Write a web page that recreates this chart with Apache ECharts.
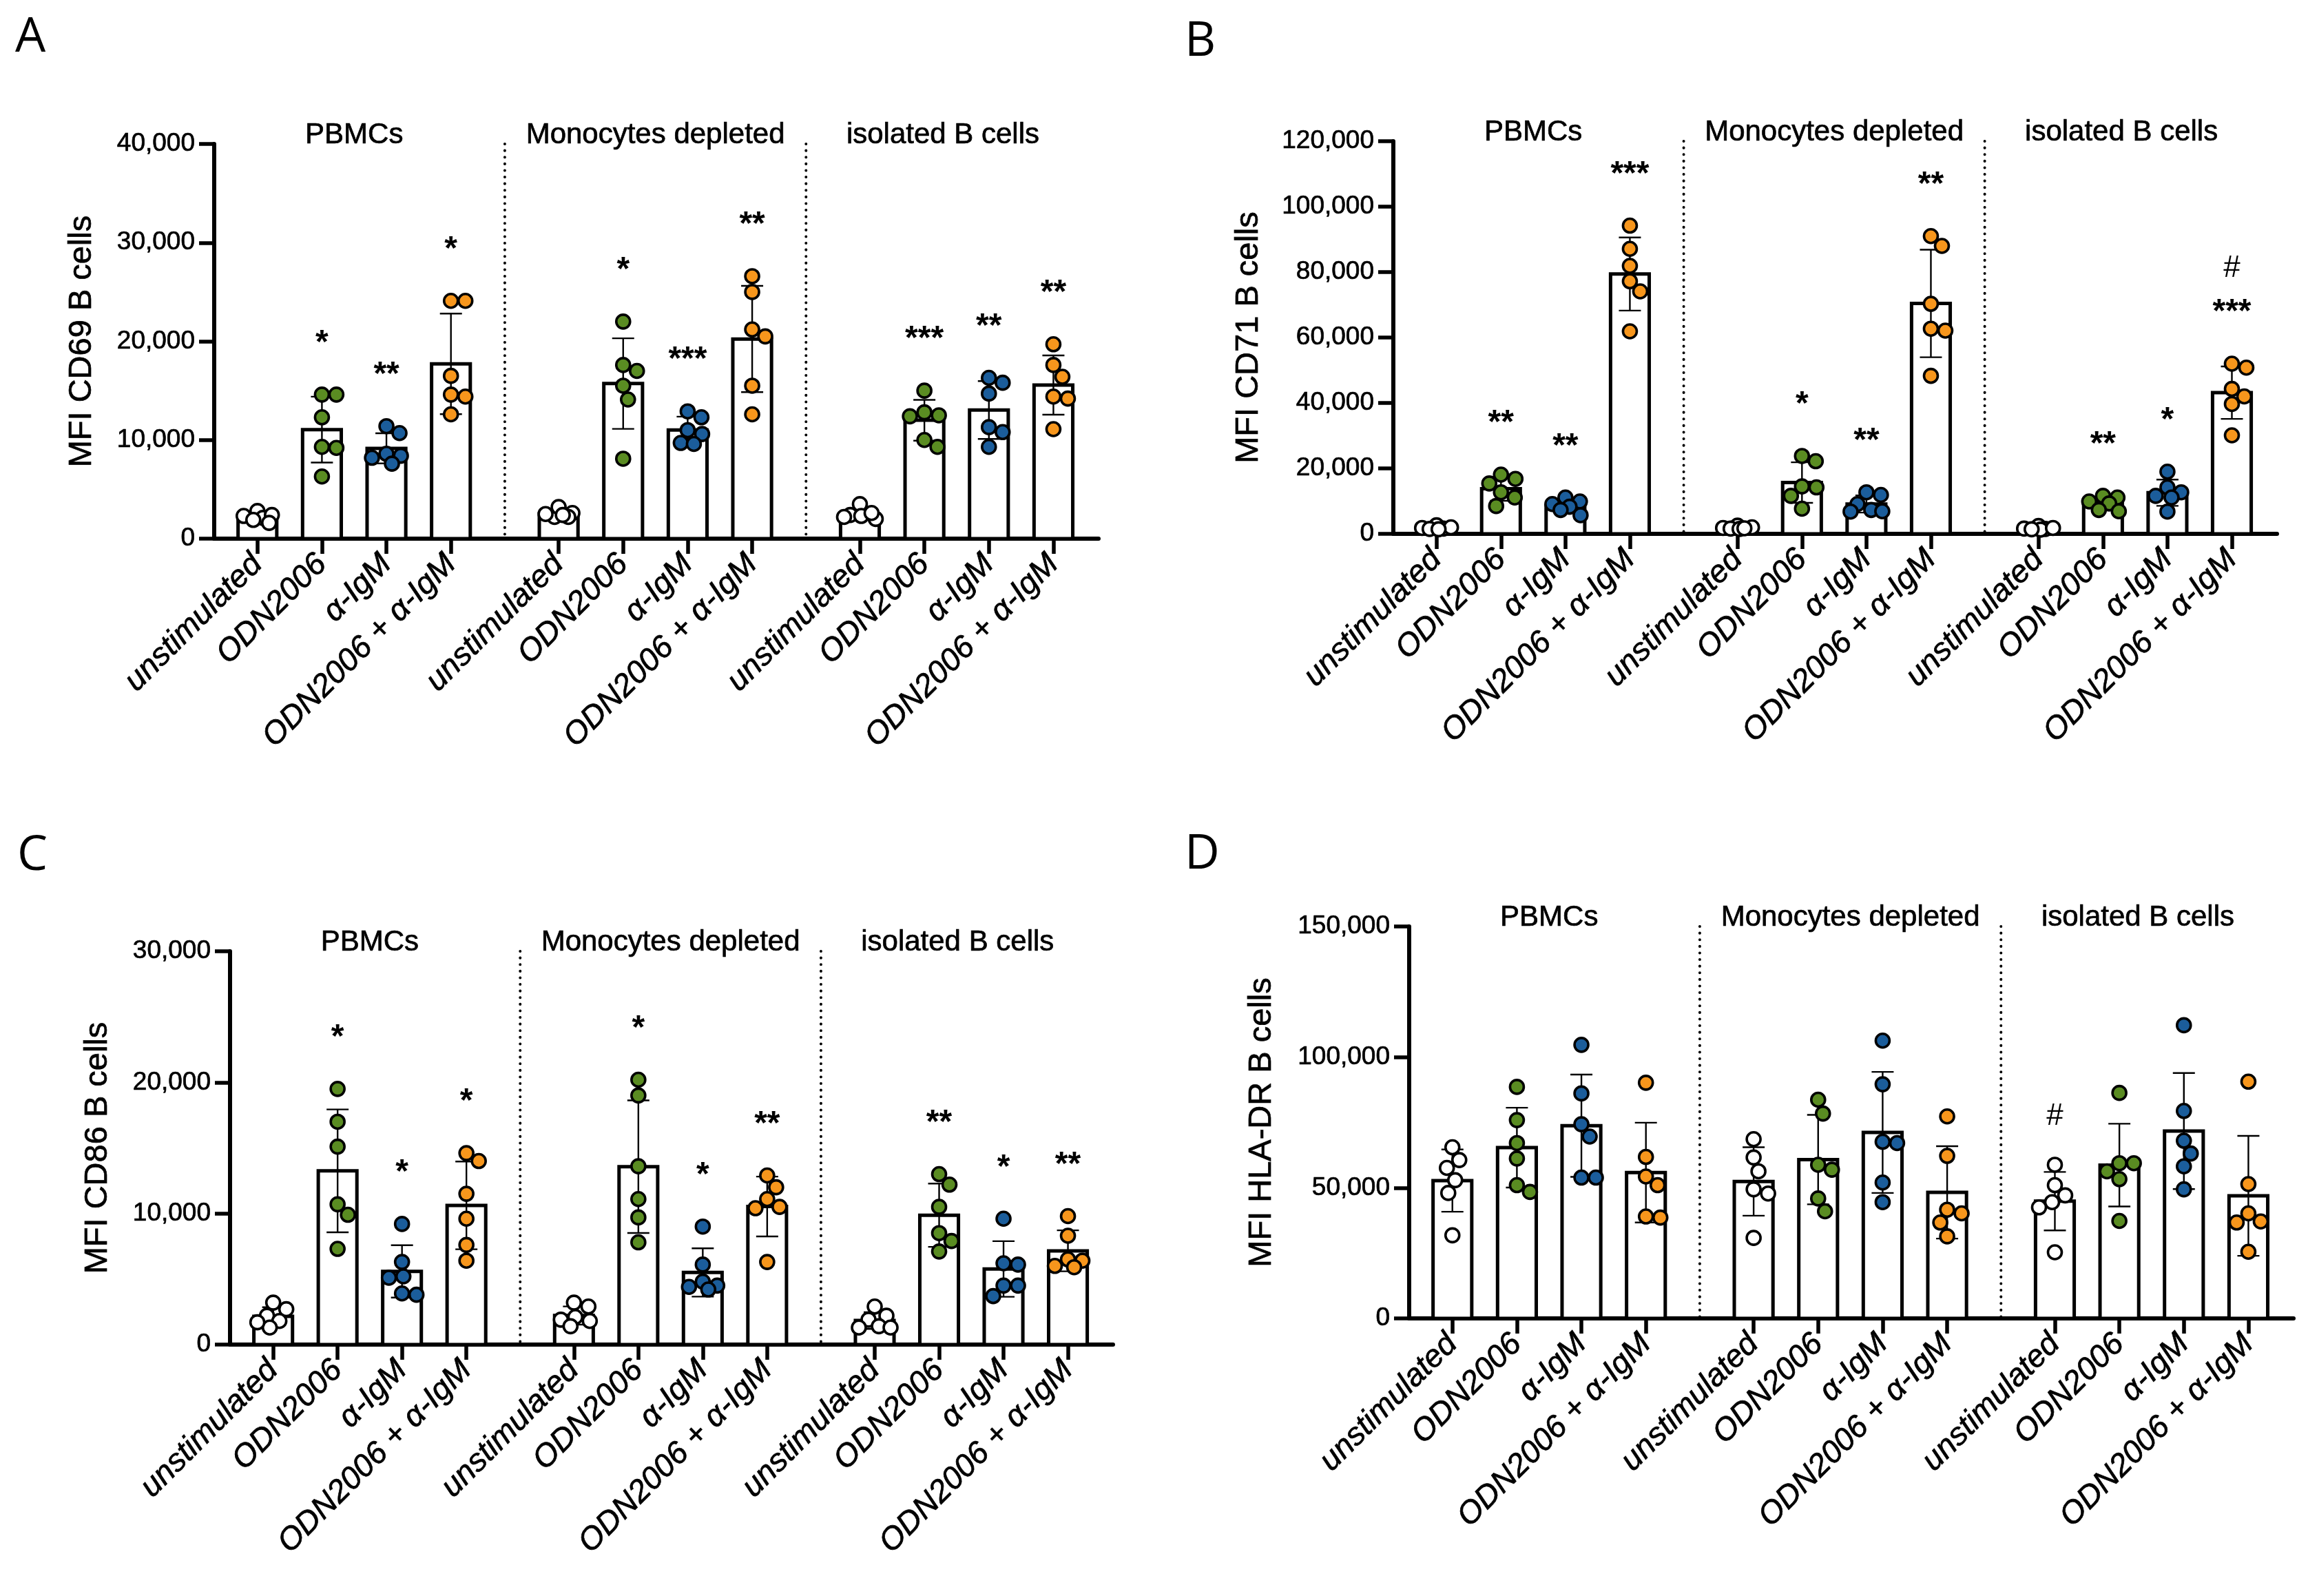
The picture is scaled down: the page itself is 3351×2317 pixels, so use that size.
<!DOCTYPE html>
<html><head><meta charset="utf-8">
<script src="https://cdn.jsdelivr.net/npm/echarts@6/dist/echarts.min.js"></script>
<style>html,body{margin:0;padding:0;background:#fff}#c{width:3351px;height:2317px}</style>
</head><body><div id="c"></div>
<script>
// ---------- categories ----------
const conditions = ['unstimulated', 'ODN2006', 'α-IgM', 'ODN2006 + α-IgM'];
const groupNames = ['PBMCs', 'Monocytes depleted', 'isolated B cells'];
const conditionColors = ['#ffffff', '#5a8c22', '#1b5d9b', '#f7961c'];

// ---------- Panel A: MFI CD69 ----------
const cd69_PBMC = [[2800, 2300, 2100, 1900, 2400, 1600], [14600, 14600, 12300, 9300, 9200, 6300], [11400, 10700, 8600, 8400, 8200, 7600], [24100, 24100, 16500, 14600, 14400, 12600]];
const cd69_Mono = [[2200, 3200, 2600, 2200, 2500, 2400], [22000, 17600, 17000, 15500, 14100, 8100], [12900, 12300, 10600, 11000, 9700, 9600], [26600, 25000, 21200, 20500, 15500, 12600]];
const cd69_Iso = [[2000, 2400, 3500, 2300, 2600, 2200], [15000, 12800, 12500, 12400, 10000, 9300], [15800, 16300, 14700, 11300, 10800, 9300], [19700, 17600, 16400, 14400, 14200, 11100]];
const cd69_sig = ['', '*', '**', '*', '', '*', '***', '**', '', '***', '**', '**'];
const cd69_ticks = [0, 10000, 20000, 30000, 40000];

// ---------- Panel B: MFI CD71 ----------
const cd71_PBMC = [[1800, 2600, 1500, 1600, 2000, 1400], [18100, 16800, 15400, 12700, 11100, 8500], [11100, 9900, 9100, 8300, 7300, 5700], [94200, 87100, 81900, 77200, 74100, 61900]];
const cd71_Mono = [[1800, 2500, 1600, 1500, 2000, 1700], [23800, 22200, 14500, 14200, 11600, 7700], [12700, 11900, 9100, 7300, 6800, 6900], [91000, 88000, 70300, 62700, 62100, 48300]];
const cd71_Iso = [[1600, 2400, 1500, 1300, 1800, 1400], [11600, 11100, 9900, 9300, 7300, 6900], [19000, 14200, 12700, 11600, 11100, 6800], [52000, 50800, 44300, 42000, 39700, 30100]];
const cd71_sig = ['', '**', '**', '***', '', '*', '**', '**', '', '**', '*', '#\n***'];
const cd71_ticks = [0, 20000, 40000, 60000, 80000, 100000, 120000];

// ---------- Panel C: MFI CD86 ----------
const cd86_PBMC = [[3200, 2700, 2200, 1800, 1300, 1700], [19500, 17000, 15100, 10700, 9900, 7300], [9200, 6300, 5200, 5100, 3900, 3800], [14600, 14000, 11500, 9600, 7600, 6400]];
const cd86_Mono = [[3200, 2900, 2100, 1900, 1400, 1800], [20200, 19000, 13600, 11100, 9700, 7800], [9000, 6100, 4800, 4500, 4400, 4200], [12900, 12000, 11100, 10500, 10400, 6300]];
const cd86_Iso = [[2900, 2200, 1900, 1400, 1300, 1300], [13000, 12200, 10500, 8500, 7900, 7100], [9600, 6200, 6100, 4500, 4500, 3700], [9800, 8300, 6500, 6400, 6000, 5900]];
const cd86_sig = ['', '*', '*', '*', '', '*', '*', '**', '', '**', '*', '**'];
const cd86_ticks = [0, 10000, 20000, 30000];

// ---------- Panel D: MFI HLA-DR ----------
const hladr_PBMC = [[65500, 60600, 57600, 52900, 48000, 31800], [88600, 75900, 67100, 61200, 51000, 48400], [104700, 86100, 74300, 69600, 53900, 53900], [90200, 61800, 54300, 51000, 38600, 39000]];
const hladr_Mono = [[68600, 61600, 56300, 49400, 47800, 30800], [83700, 78400, 56900, 58800, 45900, 41000], [106300, 89600, 67100, 67600, 52000, 44500], [77300, 62200, 41600, 40200, 36700, 31400]];
const hladr_Iso = [[58800, 51000, 47100, 44500, 42500, 25300], [86300, 59400, 59400, 56300, 53300, 37300], [112200, 79400, 68000, 63100, 58200, 49400], [90600, 51400, 40200, 37100, 36700, 25500]];
const hladr_sig = ['', '', '', '', '', '', '', '', '#', '', '', ''];
const hladr_ticks = [0, 50000, 100000, 150000];

// ---------- layout / style (not data) ----------
const FONT = '"Liberation Sans", Arial, Helvetica, sans-serif';
const GROUP_STEP = 4.67;   // 4 categories + gap between groups
const X0 = 1;              // position of first category
const X_MIN = X0 - 0.67, X_MAX = X0 + 2 * GROUP_STEP + 3 + 0.70;
const BAR_W = 0.6;
const DOT_R = 10;
const TB = { textBorderColor: '#000', textBorderWidth: 0.7 };

const panels = [
  { letter: 'A', title: 'MFI CD69 B cells', data: [cd69_PBMC, cd69_Mono, cd69_Iso], sig: cd69_sig, ticks: cd69_ticks,
    grid: { left: 311, top: 209, width: 1284, height: 573 }, nameGap: 168, letterPos: [22, 20] },
  { letter: 'B', title: 'MFI CD71 B cells', data: [cd71_PBMC, cd71_Mono, cd71_Iso], sig: cd71_sig, ticks: cd71_ticks,
    grid: { left: 2023, top: 205, width: 1283, height: 570 }, nameGap: 186, letterPos: [1720, 26] },
  { letter: 'C', title: 'MFI CD86 B cells', data: [cd86_PBMC, cd86_Mono, cd86_Iso], sig: cd86_sig, ticks: cd86_ticks,
    grid: { left: 334, top: 1381, width: 1282, height: 571 }, nameGap: 168, letterPos: [25, 1208] },
  { letter: 'D', title: 'MFI HLA-DR B cells', data: [hladr_PBMC, hladr_Mono, hladr_Iso], sig: hladr_sig, ticks: hladr_ticks,
    grid: { left: 2046, top: 1345, width: 1284, height: 569 }, nameGap: 190, letterPos: [1720, 1206] }
];

const positions = [];
const labelNames = [];
for (let g = 0; g < 3; g++) for (let i = 0; i < 4; i++) { positions.push(+(X0 + g * GROUP_STEP + i).toFixed(4)); labelNames.push(conditions[i]); }

function nameAt(v) {
  const k = positions.findIndex(p => Math.abs(p - v) < 1e-3);
  return k < 0 ? '' : labelNames[k];
}
function mean(a) { return a.reduce((s, v) => s + v, 0) / a.length; }
function sd(a) { const m = mean(a); return Math.sqrt(a.reduce((s, v) => s + (v - m) * (v - m), 0) / (a.length - 1)); }

function swarm(pys) {
  // beeswarm limited to the bar width: separate points when possible, otherwise overlap least
  const D = 21, LIM = 23;
  const idx = pys.map((p, i) => i).sort((a, b) => pys[a] - pys[b]);
  const placed = [];
  const off = new Array(pys.length).fill(0);
  const cands = [0];
  for (let k = 1; k <= LIM; k++) { cands.push(k); cands.push(-k); }
  idx.forEach(i => {
    let best = null, bestD = -1;
    for (const dx of cands) {
      let md = Infinity;
      placed.forEach(q => { const d = Math.hypot(dx - q.x, pys[i] - q.y); if (d < md) md = d; });
      if (md >= D) { best = dx; break; }
      if (md > bestD + 0.5) { bestD = md; best = dx; }
    }
    off[i] = best; placed.push({ x: best, y: pys[i] });
  });
  return off;
}

const grids = [], xAxes = [], yAxes = [], series = [], graphics = [];

panels.forEach((P, pi) => {
  grids.push(Object.assign({ containLabel: false, outerBoundsMode: 'none' }, P.grid));
  const yMax = P.ticks[P.ticks.length - 1];
  xAxes.push({
    gridIndex: pi, type: 'value', min: X_MIN, max: X_MAX,
    splitLine: { show: false },
    axisLine: { show: true, onZero: false, lineStyle: { color: '#000', width: 6 } },
    axisTick: { show: true, customValues: positions, length: 22, lineStyle: { color: '#000', width: 5.5 } },
    axisLabel: Object.assign({ show: true, customValues: positions, formatter: v => nameAt(v), rotate: 45, margin: 30,
      fontSize: 46, fontStyle: 'italic', fontFamily: FONT, color: '#000' }, TB)
  });
  yAxes.push({
    gridIndex: pi, type: 'value', min: 0, max: yMax, interval: P.ticks[1] - P.ticks[0],
    splitLine: { show: false },
    axisLine: { show: true, onZero: false, lineStyle: { color: '#000', width: 6 } },
    axisTick: { show: true, length: 22, lineStyle: { color: '#000', width: 5.5 } },
    axisLabel: Object.assign({ fontSize: 37, fontFamily: FONT, color: '#000', margin: 28,
      formatter: v => v.toLocaleString('en-US') }, TB),
    name: P.title, nameLocation: 'middle', nameGap: P.nameGap, nameRotate: 90,
    nameTextStyle: Object.assign({ fontSize: 47, fontFamily: FONT, color: '#000' }, TB)
  });

  const items = [];
  for (let g = 0; g < 3; g++) for (let i = 0; i < 4; i++) {
    const vals = P.data[g][i];
    items.push({ x: X0 + g * GROUP_STEP + i, vals, m: mean(vals), s: sd(vals), cat: i, sig: P.sig[g * 4 + i] });
  }

  // bars
  series.push({
    type: 'custom', xAxisIndex: pi, yAxisIndex: pi, z: 2,
    data: items.map(d => [d.x, d.m]),
    renderItem: (params, api) => {
      const x = api.value(0), m = api.value(1);
      const a = api.coord([x - BAR_W / 2, 0]), b = api.coord([x + BAR_W / 2, m]);
      return { type: 'rect', shape: { x: a[0], y: b[1], width: b[0] - a[0], height: a[1] - b[1] },
        style: { fill: '#fff', stroke: '#000', lineWidth: 5 } };
    }
  });
  // error bars (mean ± SD)
  series.push({
    type: 'custom', xAxisIndex: pi, yAxisIndex: pi, z: 3,
    data: items.map(d => [d.x, d.m - d.s, d.m + d.s]),
    renderItem: (params, api) => {
      const x = api.value(0);
      const lo = api.coord([x, api.value(1)]), hi = api.coord([x, api.value(2)]);
      const cw = 16, st = { stroke: '#000', lineWidth: 2.4 };
      return { type: 'group', children: [
        { type: 'line', shape: { x1: lo[0], y1: lo[1], x2: hi[0], y2: hi[1] }, style: st },
        { type: 'line', shape: { x1: hi[0] - cw, y1: hi[1], x2: hi[0] + cw, y2: hi[1] }, style: st },
        { type: 'line', shape: { x1: lo[0] - cw, y1: lo[1], x2: lo[0] + cw, y2: lo[1] }, style: st }
      ] };
    }
  });
  // individual points
  series.push({
    type: 'custom', xAxisIndex: pi, yAxisIndex: pi, z: 4,
    data: items.map((d, k) => [d.x, d.m, k]),
    renderItem: (params, api) => {
      const x = api.value(0), it = items[api.value(2)];
      const pts = it.vals.map(v => api.coord([x, v]));
      const offs = swarm(pts.map(p => p[1]));
      return { type: 'group', children: pts.map((p, j) => ({
        type: 'circle', shape: { cx: p[0] + offs[j], cy: p[1], r: DOT_R },
        style: { fill: conditionColors[it.cat], stroke: '#000', lineWidth: 3.6 } })) };
    }
  });
  // significance labels
  series.push({
    type: 'custom', xAxisIndex: pi, yAxisIndex: pi, z: 5,
    data: items.map((d, k) => [d.x, Math.max(d.m + d.s, Math.max.apply(null, d.vals)), k]),
    renderItem: (params, api) => {
      const it = items[api.value(2)];
      if (!it.sig) return null;
      const p = api.coord([api.value(0), api.value(1)]);
      const lines = it.sig.split('\n').reverse();
      return { type: 'group', children: lines.map((t, j) => ({
        type: 'text', x: p[0], y: p[1] - (t === '#' ? 70 : 74) - j * 68,
        style: { text: t, fontSize: t === '#' ? 44 : 48, fontWeight: t === '#' ? 'normal' : 'bold',
          fontFamily: FONT, fill: '#000', align: 'center', verticalAlign: 'middle' } })) };
    }
  });
  // group labels + dotted separators
  series.push({
    type: 'custom', xAxisIndex: pi, yAxisIndex: pi, z: 1,
    data: groupNames.map((n, g) => [X0 + g * GROUP_STEP + 1.5, yMax, g]),
    renderItem: (params, api) => {
      const g = api.value(2);
      const c = api.coord([api.value(0), api.value(1)]);
      const ch = [{ type: 'text', x: c[0] - (g === 2 ? 20 : 0), y: c[1] + 8,
        style: { text: groupNames[g], fontSize: 42, fontFamily: FONT, fill: '#000', align: 'center', verticalAlign: 'bottom',
          stroke: '#000', lineWidth: 0.7 } }];
      if (g < 2) {
        const sx = X0 + g * GROUP_STEP + 3 + (GROUP_STEP - 3) / 2;
        const t = api.coord([sx, api.value(1)]), b = api.coord([sx, 0]);
        ch.push({ type: 'line', shape: { x1: t[0], y1: t[1], x2: b[0], y2: b[1] },
          style: { stroke: '#000', lineWidth: 4, lineDash: [0.1, 9.5], lineCap: 'round' } });
      }
      return { type: 'group', children: ch };
    }
  });

  graphics.push({ type: 'text', left: P.letterPos[0], top: P.letterPos[1],
    style: { text: P.letter, fontSize: 70, fontFamily: '"Open Sans", sans-serif', fill: '#000' } });
});

const chart = echarts.init(document.getElementById('c'), null, { renderer: 'canvas' });
chart.setOption({
  animation: false,
  backgroundColor: '#fff',
  grid: grids, xAxis: xAxes, yAxis: yAxes, series: series, graphic: graphics
});
</script></body></html>
